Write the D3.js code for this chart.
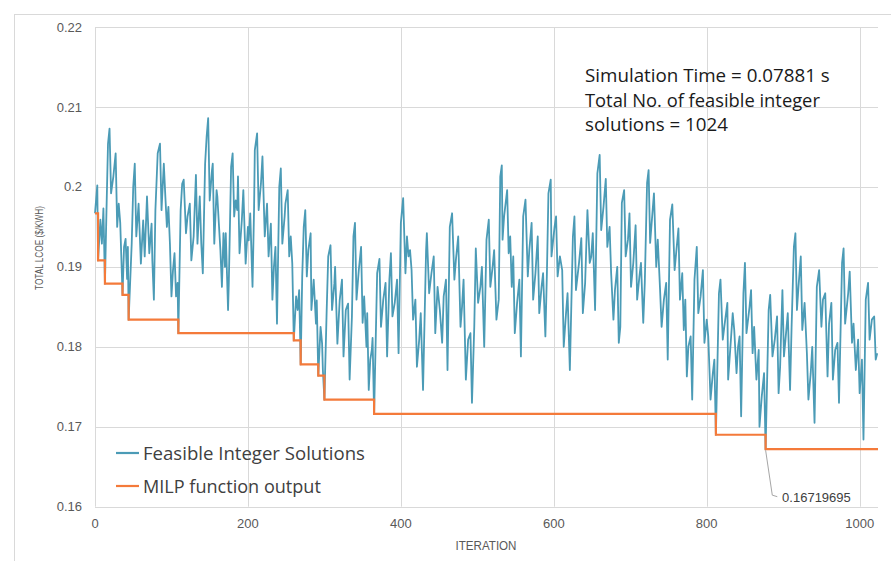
<!DOCTYPE html>
<html>
<head>
<meta charset="utf-8">
<script src="https://cdn.jsdelivr.net/npm/d3@7"></script>
<style>
  html, body { margin: 0; padding: 0; background: #ffffff; }
  svg { display: block; }
</style>
</head>
<body>
<svg id="chart" width="891" height="561"></svg>
<script>
// ---------------- DATA ----------------
const blueIter = [0,3,4,7,9,11,13,15,17,19,21,24,27,29,31,33,36,38,40,42,43,44,48,50,52,54,57,60,63,65,68,71,74,75,77,79,82,85,87,90,92,94,96,98,100,102,104,106,108,109,112,114,116,119,121,124,126,129,132,134,137,139,141,144,146,148,150,153,154,156,159,160,162,164,166,168,170,171,174,175,178,180,182,184,186,187,189,192,194,197,200,201,203,206,208,209,212,214,217,219,222,225,227,230,232,234,236,238,241,243,245,248,249,252,254,256,258,260,263,265,267,269,271,273,275,277,279,282,283,286,289,290,292,295,297,298,300,303,305,308,310,313,314,317,320,323,325,328,331,333,336,338,340,342,345,348,350,352,355,356,358,360,362,363,365,369,372,374,377,380,382,385,387,389,392,395,397,400,403,406,408,410,412,414,416,419,421,424,426,429,433,434,437,440,443,445,448,451,454,456,459,461,464,467,470,472,475,478,480,482,485,488,491,493,496,498,501,504,506,509,512,515,517,520,522,525,528,530,532,533,535,539,541,543,545,547,549,552,555,557,560,563,566,568,571,573,576,579,581,584,586,589,591,593,596,597,601,603,605,608,611,613,616,618,621,625,627,629,633,636,638,641,644,647,649,651,654,657,660,662,665,668,670,673,675,678,680,683,685,687,689,692,694,697,699,701,704,707,709,712,714,717,719,722,724,726,728,731,734,736,739,741,744,747,749,752,755,758,760,763,765,768,770,772,774,776,779,781,784,787,789,792,795,797,800,802,805,808,810,812,816,818,821,823,827,828,831,834,836,839,841,843,845,848,850,852,856,858,860,862,865,868,869,872,875,877,881,883,886,889,892,894,896,899,901,903,906,909,911,914,916,918,920,923,925,928,931,933,936,938,941,944,947,950,952,955,958,960,963,965,968,971,973,977,979,981,985,987,990,992,995,998,1000,1003,1005,1008,1011,1013,1016,1019,1021,1023];
const blueLCOE = [0.1967,0.2002,0.1908,0.1959,0.1929,0.1973,0.1879,0.1970,0.2054,0.2073,0.1992,0.2013,0.2042,0.1950,0.1979,0.1955,0.1865,0.1925,0.1935,0.1885,0.1925,0.1834,0.1929,0.2000,0.2029,0.1938,0.1979,0.1904,0.1958,0.1913,0.1988,0.1917,0.1954,0.1908,0.1859,0.1971,0.2042,0.2054,0.1971,0.2029,0.1988,0.1950,0.1975,0.1929,0.1863,0.1896,0.1917,0.1863,0.1880,0.1817,0.1971,0.2004,0.2009,0.1942,0.1963,0.1979,0.1908,0.1938,0.2015,0.1929,0.1988,0.1929,0.1892,0.2029,0.2063,0.2086,0.1983,0.2021,0.2029,0.1929,0.1996,0.1988,0.1954,0.1921,0.1875,0.1942,0.1900,0.1942,0.1846,0.1880,0.2025,0.2042,0.1963,0.1983,0.1971,0.2013,0.1917,0.1958,0.1996,0.1904,0.1950,0.1933,0.1967,0.1875,0.1971,0.2046,0.2067,0.1971,0.2004,0.2038,0.1938,0.1979,0.1913,0.1954,0.1859,0.1900,0.1925,0.1829,0.2000,0.2023,0.1929,0.1963,0.1979,0.1996,0.1913,0.1938,0.1904,0.1808,0.1863,0.1846,0.1871,0.1778,0.1888,0.1950,0.1971,0.1888,0.1921,0.1942,0.1846,0.1884,0.1829,0.1858,0.1764,0.1825,0.1804,0.1771,0.1734,0.1846,0.1913,0.1927,0.1846,0.1879,0.1900,0.1804,0.1858,0.1884,0.1788,0.1846,0.1854,0.1759,0.1838,0.1938,0.1955,0.1859,0.1896,0.1925,0.1830,0.1863,0.1800,0.1842,0.1746,0.1784,0.1796,0.1811,0.1716,0.1892,0.1910,0.1825,0.1859,0.1880,0.1788,0.1884,0.1917,0.1838,0.1855,0.1884,0.1792,0.1955,0.1986,0.1892,0.1938,0.1913,0.1921,0.1896,0.1834,0.1859,0.1775,0.1809,0.1842,0.1746,0.1921,0.1942,0.1867,0.1892,0.1913,0.1817,0.1875,0.1846,0.1805,0.1863,0.1884,0.1771,0.1950,0.1967,0.1884,0.1909,0.1938,0.1825,0.1850,0.1884,0.1759,0.1809,0.1817,0.1730,0.1825,0.1923,0.1855,0.1875,0.1900,0.1800,0.1934,0.1959,0.1875,0.1900,0.1921,0.1834,0.1859,0.2013,0.2027,0.1934,0.1963,0.1996,0.1917,0.1938,0.1875,0.1913,0.1817,0.1855,0.1884,0.1788,0.1963,0.1984,0.1888,0.1921,0.1955,0.1859,0.1892,0.1938,0.1842,0.1875,0.1892,0.1813,0.1892,0.1992,0.2009,0.1913,0.1950,0.1963,0.1888,0.1913,0.1896,0.1800,0.1842,0.1867,0.1771,0.1938,0.1963,0.1871,0.1905,0.1936,0.1842,0.1880,0.1971,0.1905,0.1913,0.1942,0.1846,0.2017,0.2040,0.1946,0.1975,0.2010,0.1925,0.1950,0.1892,0.1834,0.1871,0.1900,0.1805,0.1825,0.1980,0.1996,0.1913,0.1934,0.1967,0.1875,0.1905,0.1952,0.1859,0.1888,0.1905,0.1830,0.1880,0.2005,0.2021,0.1930,0.1955,0.1992,0.1900,0.1934,0.1871,0.1825,0.1859,0.1880,0.1784,0.1959,0.1978,0.1896,0.1917,0.1948,0.1859,0.1892,0.1821,0.1859,0.1763,0.1800,0.1813,0.1734,0.1884,0.1925,0.1842,0.1863,0.1896,0.1805,0.1834,0.1813,0.1734,0.1767,0.1784,0.1690,0.1867,0.1884,0.1809,0.1825,0.1855,0.1759,0.1800,0.1842,0.1821,0.1767,0.1800,0.1813,0.1713,0.1867,0.1905,0.1817,0.1850,0.1871,0.1792,0.1825,0.1759,0.1796,0.1700,0.1738,0.1767,0.1672,0.1846,0.1865,0.1788,0.1809,0.1838,0.1742,0.1775,0.1871,0.1788,0.1809,0.1842,0.1746,0.1825,0.1925,0.1942,0.1846,0.1875,0.1913,0.1821,0.1855,0.1792,0.1734,0.1767,0.1800,0.1705,0.1875,0.1896,0.1825,0.1859,0.1867,0.1763,0.1829,0.1855,0.1759,0.1796,0.1805,0.1730,0.1905,0.1923,0.1829,0.1867,0.1894,0.1805,0.1829,0.1771,0.1809,0.1742,0.1784,0.1684,0.1859,0.1880,0.1809,0.1834,0.1838,0.1784,0.1792];

// MILP function output (best value found so far), step points
const stepIter = [0,4,13,36,44,109,260,269,292,300,365,812,877,1024];
const stepLCOE = [0.1967,0.1908,0.1879,0.1865,0.1834,0.1817,0.1808,0.1778,0.1764,0.1734,0.1716,0.1690,0.16719695,0.16719695];

const xTicks = [0,200,400,600,800,1000];
const yTicks = [0.16,0.17,0.18,0.19,0.20,0.21,0.22];
const yTickLabels = ["0.16","0.17","0.18","0.19","0.2","0.21","0.22"];
const seriesNames = ["Feasible Integer Solutions","MILP function output"];
const noteLines = ["Simulation Time = 0.07881 s","Total No. of feasible integer","solutions = 1024"];
const minPoint = {iter: 877, lcoe: 0.16719695, label: "0.16719695"};
const xTitle = "ITERATION";
const yTitle = "TOTAL LCOE ($/KWH)";

// ---------------- DRAWING ----------------
const svg = d3.select("#chart");
const blue = "#4b9bb6", orange = "#f47a3a", grid = "#d9d9d9";
const tickFont = "'Liberation Sans', Arial, sans-serif";
const bodyFont = "'Open Sans', 'Noto Sans', sans-serif";

const x = d3.scaleLinear().domain([0, 1024]).range([95, 878]);
const y = d3.scaleLinear().domain([0.16, 0.22]).range([506.7, 27]);

// helper: scale font so rendered text has the target width
function fit(sel, target) {
  sel.each(function() {
    const w = this.getComputedTextLength();
    const fs = parseFloat(d3.select(this).attr("font-size"));
    if (w > 0) d3.select(this).attr("font-size", (fs * target / w).toFixed(2));
  });
}

// chart border
svg.append("rect").attr("x", 14.5).attr("y", 14.5).attr("width", 1000).attr("height", 1000)
  .attr("fill", "none").attr("stroke", grid).attr("stroke-width", 1);

// gridlines
svg.append("g").selectAll("line").data(yTicks).join("line")
  .attr("x1", x(0)).attr("x2", x(1024))
  .attr("y1", d => Math.round(y(d)) + 0.5).attr("y2", d => Math.round(y(d)) + 0.5)
  .attr("stroke", grid).attr("stroke-width", 1);
svg.append("g").selectAll("line").data(xTicks).join("line")
  .attr("x1", d => Math.round(x(d)) + 0.5).attr("x2", d => Math.round(x(d)) + 0.5)
  .attr("y1", y(0.22)).attr("y2", y(0.16))
  .attr("stroke", grid).attr("stroke-width", 1);

// y tick labels
svg.append("g").selectAll("text").data(yTicks).join("text")
  .attr("x", 82).attr("y", d => y(d)).attr("dy", "0.35em")
  .attr("text-anchor", "end").attr("font-family", tickFont).attr("font-size", 13)
  .attr("fill", "#595959").text((d, i) => yTickLabels[i]);

// x tick labels
svg.append("g").selectAll("text").data(xTicks).join("text")
  .attr("x", d => x(d)).attr("y", 528)
  .attr("text-anchor", "middle").attr("font-family", tickFont).attr("font-size", 13)
  .attr("fill", "#595959").text(d => d);

// axis titles (condensed, as in the reference)
svg.append("text").attr("x", 486).attr("y", 549.5).attr("text-anchor", "middle")
  .attr("font-family", tickFont).attr("font-size", 13).attr("fill", "#595959")
  .attr("textLength", 61).attr("lengthAdjust", "spacingAndGlyphs")
  .text(xTitle);
svg.append("text").attr("transform", "translate(43,248) rotate(-90)").attr("text-anchor", "middle")
  .attr("font-family", tickFont).attr("font-size", 10).attr("fill", "#595959")
  .attr("textLength", 84).attr("lengthAdjust", "spacingAndGlyphs")
  .text(yTitle);

// series
const blueData = blueIter.map((d, i) => [d, blueLCOE[i]]);
const stepData = stepIter.map((d, i) => [d, stepLCOE[i]]);

svg.append("path").datum(blueData)
  .attr("fill", "none").attr("stroke", blue).attr("stroke-width", 1.8)
  .attr("stroke-linejoin", "round")
  .attr("d", d3.line().x(d => x(d[0])).y(d => y(d[1])));

svg.append("path").datum(stepData)
  .attr("fill", "none").attr("stroke", orange).attr("stroke-width", 2.2)
  .attr("d", d3.line().curve(d3.curveStepAfter).x(d => x(d[0])).y(d => y(d[1])));

// data label for minimum
const px = x(minPoint.iter), py = y(minPoint.lcoe);
svg.append("polyline")
  .attr("points", `${px},${py + 1} ${px + 6.7},${py + 46} ${px + 11.7},${py + 47.5}`)
  .attr("fill", "none").attr("stroke", "#a6a6a6").attr("stroke-width", 1);
svg.append("text").attr("x", px + 16.5).attr("y", py + 52.5)
  .attr("font-family", tickFont).attr("font-size", 13).attr("fill", "#404040")
  .text(minPoint.label);

// legend
const legColors = [blue, orange];
const legY = [453, 486];
const legW = [222, 178];
seriesNames.forEach((name, i) => {
  svg.append("line").attr("x1", 116).attr("x2", 139).attr("y1", legY[i]).attr("y2", legY[i])
    .attr("stroke", legColors[i]).attr("stroke-width", 2.2);
  svg.append("text").attr("x", 143).attr("y", legY[i] + 6.5)
    .attr("font-family", bodyFont).attr("font-size", 18).attr("fill", "#404040")
    .text(name).call(fit, legW[i]);
});

// note text
const noteW = [245, 235, 143];
const noteY = [82, 107, 131];
noteLines.forEach((t, i) => {
  svg.append("text").attr("x", 585).attr("y", noteY[i])
    .attr("font-family", bodyFont).attr("font-size", 18).attr("fill", "#1a1a1a")
    .text(t).call(fit, noteW[i]);
});
</script>
</body>
</html>
